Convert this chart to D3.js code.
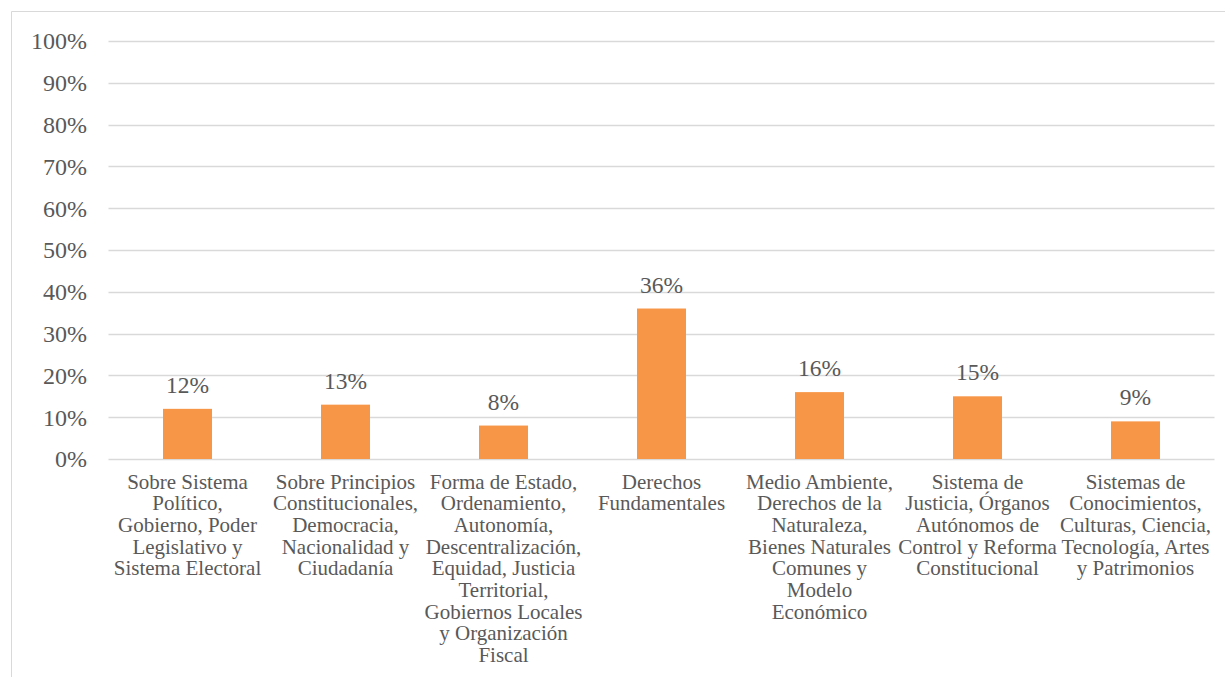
<!DOCTYPE html>
<html>
<head>
<meta charset="utf-8">
<script src="https://cdn.jsdelivr.net/npm/d3@7"></script>
<style>
  html, body { margin: 0; padding: 0; background: #fff; }
  svg { display: block; }
</style>
</head>
<body>
<svg id="chart" width="1225" height="677"></svg>
<script>
// Share of proposals by thematic area
const categories = [
  "Sobre Sistema\nPolítico,\nGobierno, Poder\nLegislativo y\nSistema Electoral",
  "Sobre Principios\nConstitucionales,\nDemocracia,\nNacionalidad y\nCiudadanía",
  "Forma de Estado,\nOrdenamiento,\nAutonomía,\nDescentralización,\nEquidad, Justicia\nTerritorial,\nGobiernos Locales\ny Organización\nFiscal",
  "Derechos\nFundamentales",
  "Medio Ambiente,\nDerechos de la\nNaturaleza,\nBienes Naturales\nComunes y\nModelo\nEconómico",
  "Sistema de\nJusticia, Órganos\nAutónomos de\nControl y Reforma\nConstitucional",
  "Sistemas de\nConocimientos,\nCulturas, Ciencia,\nTecnología, Artes\ny Patrimonios"
];
const values = [0.12, 0.13, 0.08, 0.36, 0.16, 0.15, 0.09];
const yTicks = [0, 0.1, 0.2, 0.3, 0.4, 0.5, 0.6, 0.7, 0.8, 0.9, 1.0];

const FONT = "'Liberation Serif', 'DejaVu Serif', serif";
const TEXT = "#595959";

const svg = d3.select("#chart");
const W = 1225, H = 677;

// outer frame
svg.append("path")
  .attr("d", `M11.5,${H} V11.5 H${W}`)
  .attr("fill", "none").attr("stroke", "#d9d9d9").attr("stroke-width", 1);

const plotLeft = 108.5, plotRight = 1214.5, plotTop = 41, plotBottom = 459;

const x = d3.scaleBand().domain(d3.range(categories.length))
  .range([plotLeft, plotRight]).paddingInner(0.69).paddingOuter(0.345);
const y = d3.scaleLinear().domain([0, 1]).range([plotBottom, plotTop]);

// gridlines
svg.append("g").selectAll("line").data(yTicks).join("line")
  .attr("x1", plotLeft).attr("x2", plotRight)
  .attr("y1", d => Math.round(y(d)) + 0.5).attr("y2", d => Math.round(y(d)) + 0.5)
  .attr("stroke", "#d9d9d9").attr("stroke-width", 1.3);

// y axis labels
const yAxis = d3.axisLeft(y).tickValues(yTicks).tickFormat(d3.format(".0%")).tickSize(0).tickPadding(0);
const gy = svg.append("g").attr("transform", `translate(87,0)`).call(yAxis);
gy.select(".domain").remove();
gy.selectAll("text")
  .attr("fill", TEXT).style("font-family", FONT).style("font-size", "24px").attr("dy", "0.33em");

// bars
svg.append("g").selectAll("rect").data(values).join("rect")
  .attr("x", (d, i) => x(i)).attr("width", x.bandwidth())
  .attr("y", d => y(d)).attr("height", d => y(0) - y(d))
  .attr("fill", "#F79646");

// value labels
svg.append("g").selectAll("text").data(values).join("text")
  .attr("x", (d, i) => x(i) + x.bandwidth() / 2)
  .attr("y", d => y(d) - 16)
  .attr("text-anchor", "middle")
  .attr("fill", TEXT).style("font-family", FONT).style("font-size", "23.5px")
  .text(d => d3.format(".0%")(d));

// category labels
const cat = svg.append("g").selectAll("text").data(categories).join("text")
  .attr("text-anchor", "middle")
  .attr("fill", TEXT).style("font-family", FONT).style("font-size", "21px");
cat.each(function(d, i) {
  const t = d3.select(this);
  d.split("\n").forEach((line, k) => {
    t.append("tspan")
      .attr("x", x(i) + x.bandwidth() / 2)
      .attr("y", 488.5 + k * 21.67)
      .text(line);
  });
});
</script>
</body>
</html>
